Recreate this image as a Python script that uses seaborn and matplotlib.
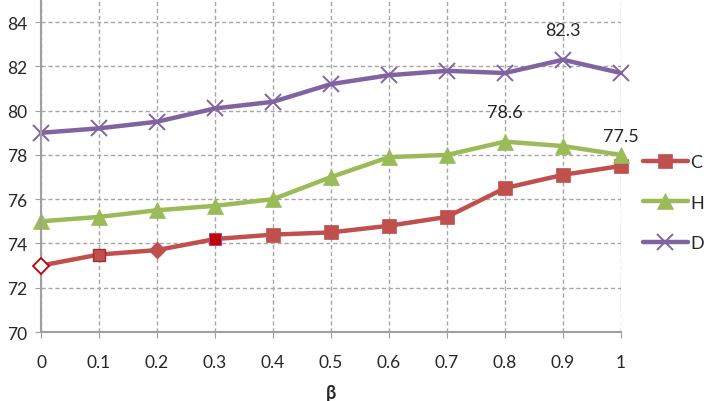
import matplotlib
matplotlib.use("Agg")
import matplotlib.pyplot as plt
import seaborn as sns
import pandas as pd

beta = [0, 0.1, 0.2, 0.3, 0.4, 0.5, 0.6, 0.7, 0.8, 0.9, 1]
tick_labels = ["0", "0.1", "0.2", "0.3", "0.4", "0.5", "0.6", "0.7", "0.8", "0.9", "1"]
C = [73.0, 73.5, 73.7, 74.2, 74.4, 74.5, 74.8, 75.2, 76.5, 77.1, 77.5]
H = [75.0, 75.2, 75.5, 75.7, 76.0, 77.0, 77.9, 78.0, 78.6, 78.4, 78.0]
D = [79.0, 79.2, 79.5, 80.1, 80.4, 81.2, 81.6, 81.8, 81.7, 82.3, 81.7]
series_names = ["C", "H", "D"]

sns.set_style("white")
plt.rcParams['font.family'] = ['Lato', 'DejaVu Sans']

colors = {"C": "#C0504D", "H": "#9BBB59", "D": "#8064A2"}
markers = {"C": "s", "H": "^", "D": "x"}
msizes = {"C": 10, "H": 11, "D": 12}

fig = plt.figure(figsize=(7.17, 4.02), dpi=100)
ax = fig.add_axes([0.0572, 0.1716, 0.8088, 0.826])

for name, vals in zip(series_names, [C, H, D]):
    d = pd.DataFrame({"beta": beta, "value": vals})
    mew = 1.4 if markers[name] == "x" else 0.5
    extra = {"markevery": list(range(4, len(vals)))} if name == "C" else {}
    sns.lineplot(data=d, x="beta", y="value", color=colors[name], marker=markers[name],
                 markersize=msizes[name], linewidth=3.2, ax=ax, label=name,
                 markeredgecolor=colors[name], markeredgewidth=mew, clip_on=False, **extra)

# special C markers (first four points)
ax.plot([beta[0]], [C[0]], marker="D", markersize=8, markerfacecolor="white",
        markeredgecolor="#C00000", markeredgewidth=1.3, linestyle="none", zorder=5, clip_on=False)
ax.plot([beta[1]], [C[1]], marker="s", markersize=8.5, markerfacecolor="#C0504D",
        markeredgecolor="#A03030", markeredgewidth=1.0, linestyle="none", zorder=5)
ax.plot([beta[2]], [C[2]], marker="D", markersize=8, markerfacecolor="#C0504D",
        markeredgecolor="#C0504D", linestyle="none", zorder=5)
ax.plot([beta[3]], [C[3]], marker="s", markersize=9, markerfacecolor="#C00000",
        markeredgecolor="#9E4A8C", markeredgewidth=0.8, linestyle="none", zorder=5)

ax.set_xlim(0, 1)
ax.set_ylim(70, 85)
ax.set_xticks(beta)
ax.set_xticklabels(tick_labels)
ax.set_yticks([70, 72, 74, 76, 78, 80, 82, 84])
ax.tick_params(axis="both", labelsize=12.5, length=4, color="#A0A0A0", direction="out",
               bottom=True, left=True, pad=6)
ax.tick_params(axis="x", pad=12)
ax.grid(True, color="#A6A6A6", linestyle=(0, (3, 2)), linewidth=1)
for s in ["top", "right"]:
    ax.spines[s].set_visible(False)
for s in ["left", "bottom"]:
    ax.spines[s].set_color("#A0A0A0")
    ax.spines[s].set_linewidth(1.5)
ax.set_axisbelow(True)

ax.set_xlabel("β", fontsize=13, fontweight="bold", labelpad=10)
ax.set_ylabel("")

ax.annotate(f"{D[9]:.1f}", (beta[9], D[9]), xytext=(0, 18), textcoords="offset points",
            ha="center", fontsize=13)
ax.annotate(f"{H[8]:.1f}", (beta[8], H[8]), xytext=(0, 18), textcoords="offset points",
            ha="center", fontsize=13)
ax.annotate(f"{C[10]:.1f}", (beta[10], C[10]), xytext=(0, 18), textcoords="offset points",
            ha="center", fontsize=13)

leg = ax.legend(loc="center left", bbox_to_anchor=(1.025, 0.39), frameon=False,
                fontsize=13, handlelength=2.5, labelspacing=1.35, handletextpad=0.15,
                borderaxespad=0)
for line in leg.get_lines():
    line.set_linewidth(3.2)

fig.savefig("out.png", dpi=100)
